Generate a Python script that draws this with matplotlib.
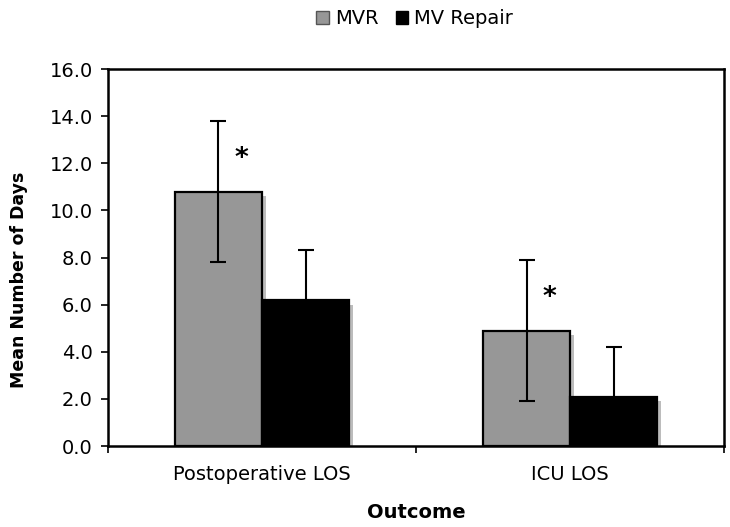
import numpy as np
import matplotlib
matplotlib.use("Agg")
import matplotlib.pyplot as plt
import matplotlib.patheffects as pe
from matplotlib.patches import Patch

categories = ["Postoperative LOS", "ICU LOS"]
mvr = [10.8, 4.9]
mvr_err = [3.0, 3.0]
repair = [6.2, 2.1]
repair_err = [2.1, 2.1]
significant = [True, True]

plt.rcParams['font.family'] = ['DejaVu Sans']

fig = plt.figure(figsize=(7.3, 5.27), dpi=100)
ax = fig.add_axes([0.148, 0.1537, 0.844, 0.7153])

x = np.arange(len(categories))
w = 0.283
shadow = [pe.SimplePatchShadow(offset=(3, -3.5), shadow_rgbFace='#bcbcbc', alpha=1), pe.Normal()]

ax.bar(x - w / 2, mvr, w, color='#979797', edgecolor='black', linewidth=1.6,
       path_effects=shadow, zorder=2)
ax.bar(x + w / 2, repair, w, color='black', edgecolor='black', linewidth=1.6,
       path_effects=shadow, zorder=2)
ax.errorbar(x - w / 2, mvr, yerr=mvr_err, fmt='none', ecolor='black',
            elinewidth=1.5, capsize=5.5, capthick=1.5, zorder=3)
ax.errorbar(x + w / 2, repair, yerr=repair_err, fmt='none', ecolor='black',
            elinewidth=1.5, capsize=5.5, capthick=1.5, zorder=3)

for i, sig in enumerate(significant):
    if sig:
        ax.text(x[i] - w / 2 + 0.075, mvr[i] + 1.4, '*', ha='center', va='center',
                fontsize=19, fontweight='bold')

ax.set_xlim(-0.5, 1.5)
ax.set_ylim(0, 16)
yt = np.arange(0, 16.1, 2.0)
ax.set_yticks(yt)
ax.set_yticklabels([f"{v:.1f}" for v in yt])
ax.set_xticks([-0.5, 0.5, 1.5])
ax.set_xticklabels([])
ax.set_xticks(x, minor=True)
ax.set_xticklabels(categories, minor=True)
ax.tick_params(axis='x', which='minor', length=0, pad=14, labelsize=14)
ax.tick_params(axis='x', which='major', length=5, width=1.2)
ax.tick_params(axis='y', length=5, width=1.2, labelsize=14, pad=6)

for s in ax.spines.values():
    s.set_linewidth(1.8)

ax.set_ylabel('Mean Number of Days', fontsize=12.5, fontweight='bold')
ax.yaxis.set_label_coords(-0.13, 0.44)
ax.set_xlabel('Outcome', fontsize=14, fontweight='bold', labelpad=13)

handles = [Patch(facecolor='#979797', edgecolor='#555555', linewidth=1),
           Patch(facecolor='black', edgecolor='black', linewidth=1)]
fig.legend(handles=handles, labels=['MVR', 'MV Repair'], loc='center',
           bbox_to_anchor=(0.568, 0.964), ncol=2, frameon=False, fontsize=14,
           handlelength=0.65, handleheight=0.65, handletextpad=0.3, columnspacing=0.9)

fig.savefig("out.png", dpi=100)
